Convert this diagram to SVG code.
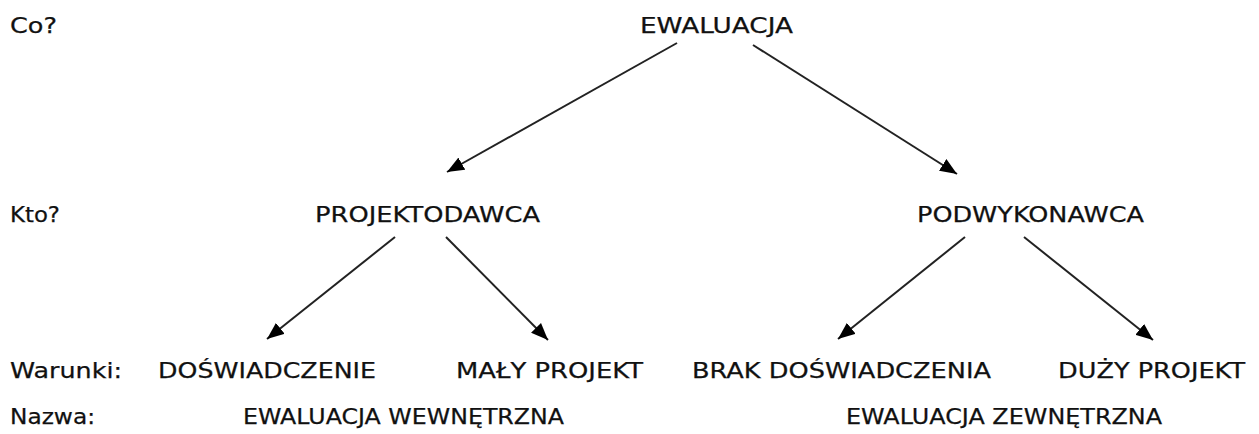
<svg xmlns="http://www.w3.org/2000/svg" width="1259" height="434" viewBox="0 0 1259 434">
<defs>
<style>
text{font-family:"DejaVu Sans",sans-serif;font-size:22px;fill:#111;stroke:#111;stroke-width:0.25;}
.c line{stroke:#222;stroke-width:2;marker-end:url(#ah);}
</style>
<marker id="ah" markerUnits="userSpaceOnUse" markerWidth="18" markerHeight="14" refX="17" refY="7" orient="auto">
<path d="M0,0 L17,7 L0,14 Z" fill="#000"/>
</marker>
</defs>
<rect width="1259" height="434" fill="#fff"/>
<g id="labels">
<text x="10" y="33" textLength="47" lengthAdjust="spacingAndGlyphs">Co?</text>
<text x="10" y="222" textLength="50" lengthAdjust="spacingAndGlyphs">Kto?</text>
<text x="10" y="378" textLength="112" lengthAdjust="spacingAndGlyphs">Warunki:</text>
<text x="10" y="424" textLength="85" lengthAdjust="spacingAndGlyphs">Nazwa:</text>
</g>
<g id="n-ewaluacja"><text x="640" y="33" textLength="153" lengthAdjust="spacingAndGlyphs">EWALUACJA</text></g>
<g id="n-projektodawca"><text x="315" y="222" textLength="225" lengthAdjust="spacingAndGlyphs">PROJEKTODAWCA</text></g>
<g id="n-podwykonawca"><text x="917" y="222" textLength="227" lengthAdjust="spacingAndGlyphs">PODWYKONAWCA</text></g>
<g id="n-doswiadczenie"><text x="158" y="378" textLength="218" lengthAdjust="spacingAndGlyphs">DOŚWIADCZENIE</text></g>
<g id="n-maly"><text x="456" y="378" textLength="187" lengthAdjust="spacingAndGlyphs">MAŁY PROJEKT</text></g>
<g id="n-brak"><text x="692" y="378" textLength="299" lengthAdjust="spacingAndGlyphs">BRAK DOŚWIADCZENIA</text></g>
<g id="n-duzy"><text x="1058" y="378" textLength="187" lengthAdjust="spacingAndGlyphs">DUŻY PROJEKT</text></g>
<g id="n-wew"><text x="243" y="424" textLength="321" lengthAdjust="spacingAndGlyphs">EWALUACJA WEWNĘTRZNA</text></g>
<g id="n-zew"><text x="846" y="424" textLength="316" lengthAdjust="spacingAndGlyphs">EWALUACJA ZEWNĘTRZNA</text></g>
<g id="connectors" class="c">
<line x1="677" y1="43" x2="447" y2="172"/>
<line x1="753" y1="45" x2="957" y2="174"/>
<line x1="395" y1="237" x2="267" y2="339"/>
<line x1="446" y1="237" x2="548" y2="340"/>
<line x1="965" y1="237" x2="838" y2="339"/>
<line x1="1024" y1="237" x2="1153" y2="340"/>
</g>
</svg>
